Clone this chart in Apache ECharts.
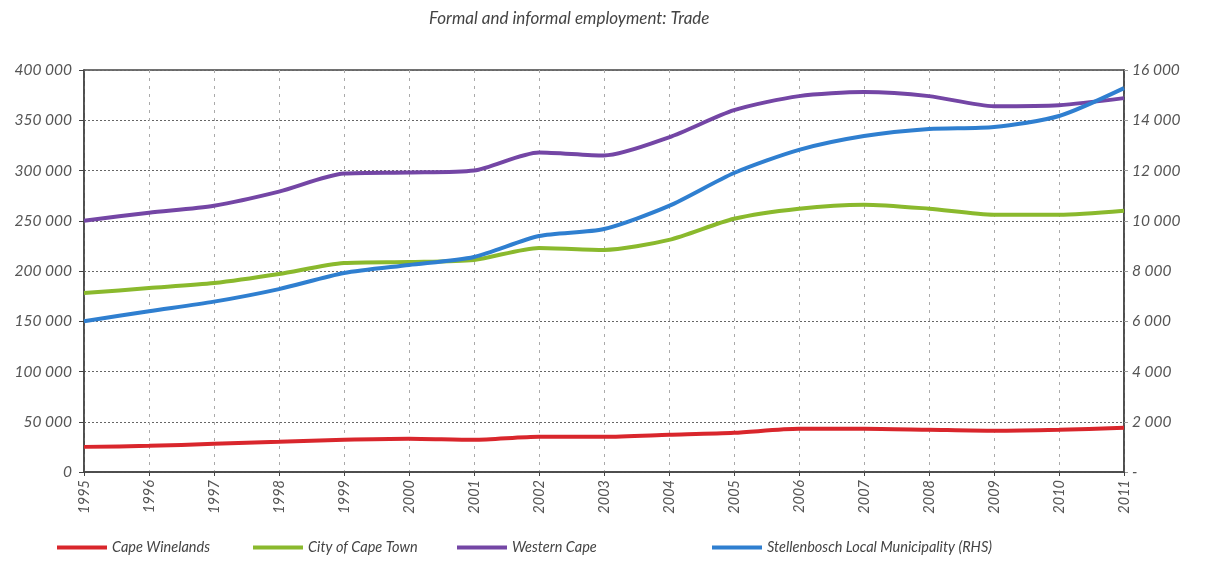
<!DOCTYPE html>
<html>
<head>
<meta charset="utf-8">
<script src="https://cdn.jsdelivr.net/npm/echarts@6/dist/echarts.min.js"></script>
<style>html,body{margin:0;padding:0;background:#fff}#c{width:1207px;height:565px}</style>
</head>
<body>
<div id="c"></div>
<script>
const years = ['1995','1996','1997','1998','1999','2000','2001','2002','2003','2004','2005','2006','2007','2008','2009','2010','2011'];
const capeWinelands = [25000,26000,28000,30000,32000,33000,32000,35000,35000,37000,39000,43000,43000,42000,41000,42000,44000];
const cityOfCapeTown = [178000,183000,188000,197000,208000,209000,211000,223000,221000,231000,252000,262000,266000,262000,256000,256000,260000];
const westernCape = [250000,258000,265000,279000,297000,298000,300000,318000,315000,333000,360000,374000,378000,374000,364000,365000,372000];
const stellenbosch = [6000,6400,6780,7280,7920,8240,8560,9390,9670,10590,11900,12820,13370,13650,13730,14170,15280];
const seriesNames = ['Cape Winelands','City of Cape Town','Western Cape','Stellenbosch Local Municipality (RHS)'];
const colors = ['#d9262c','#8ab92d','#7446a5','#2f7fd0'];

function fmt(v){ if(v===0) return '0'; return String(v).replace(/\B(?=(\d{3})+(?!\d))/g,' '); }
const font = 'Lato, "DejaVu Sans", sans-serif';
const chart = echarts.init(document.getElementById('c'));
const mk = (name, data, idx, yIdx) => ({
  name, type:'line', data, yAxisIndex:yIdx, smooth:0.25, symbol:'none',
  lineStyle:{width:4, color:colors[idx]}, itemStyle:{color:colors[idx]}
});
const legendLefts = [52, 248, 452, 707];
chart.setOption({
  animation:false,
  title:{text:'Formal and informal employment: Trade', left:424, top:5,
    textStyle:{fontFamily:font, fontStyle:'italic', fontWeight:'normal', fontSize:17, color:'#444'}},
  grid:{left:84, right:83, top:70, bottom:93, show:true, borderColor:'#444', borderWidth:1.5},
  legend: seriesNames.map((n,i)=>({bottom:5, left:legendLefts[i], itemWidth:50, itemHeight:4, icon:'rect',
    textStyle:{fontFamily:font, fontStyle:'italic', fontSize:14.5, color:'#444'},
    data:[n]})),
  xAxis:{type:'category', data:years, boundaryGap:false,
    axisLine:{lineStyle:{color:'#444', width:1.5}},
    axisTick:{show:true, length:4, lineStyle:{color:'#444'}},
    axisLabel:{rotate:90, fontFamily:font, fontStyle:'italic', fontSize:14.5, color:'#555', margin:8},
    splitLine:{show:true, lineStyle:{type:[3,5], color:'#aaa', width:1}}},
  yAxis:[
    {type:'value', min:0, max:400000, interval:50000,
     axisLine:{show:true, lineStyle:{color:'#444', width:1.5}},
     axisTick:{show:true, length:5, lineStyle:{color:'#444'}},
     axisLabel:{formatter:fmt, fontFamily:font, fontStyle:'italic', fontSize:15.5, color:'#555', margin:12},
     splitLine:{show:true, lineStyle:{type:[2,2], color:'#666', width:1}}},
    {type:'value', min:0, max:16000, interval:2000, position:'right',
     axisLine:{show:true, lineStyle:{color:'#444', width:1.5}},
     axisTick:{show:true, length:4, lineStyle:{color:'#999'}},
     axisLabel:{formatter:v=> v===0 ? '-' : fmt(v), fontFamily:font, fontStyle:'italic', fontSize:15.5, color:'#555', margin:8},
     splitLine:{show:false}}
  ],
  series:[
    mk(seriesNames[0], capeWinelands, 0, 0),
    mk(seriesNames[1], cityOfCapeTown, 1, 0),
    mk(seriesNames[2], westernCape, 2, 0),
    mk(seriesNames[3], stellenbosch, 3, 1)
  ]
});
</script>
</body>
</html>
